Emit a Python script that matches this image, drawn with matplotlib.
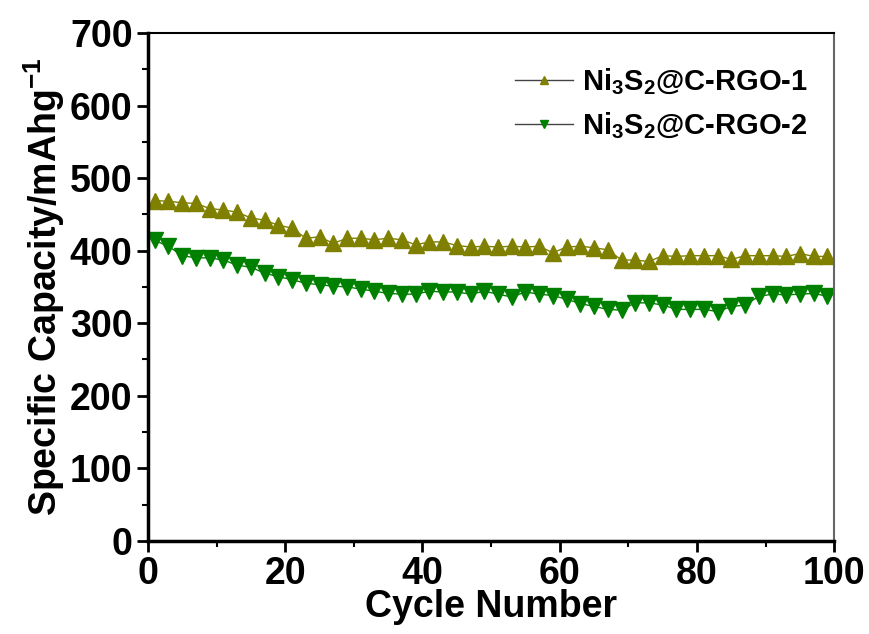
import numpy as np
import matplotlib.pyplot as plt
from matplotlib.ticker import MultipleLocator

plt.rcParams['font.family'] = ['Liberation Sans', 'DejaVu Sans']
plt.rcParams['font.weight'] = 'bold'
plt.rcParams['mathtext.fontset'] = 'custom'
plt.rcParams['mathtext.bf'] = 'Liberation Sans:bold'
plt.rcParams['mathtext.rm'] = 'Liberation Sans:bold'
plt.rcParams['mathtext.default'] = 'bf'

# cycle numbers (every second cycle)
cycles = np.arange(1, 100, 2)

# Ni3S2@C-RGO-1
cap1 = [469, 468, 466, 465, 458, 456, 453, 445, 442, 435,
        431, 417, 419, 410, 417, 417, 415, 417, 415, 408,
        412, 412, 407, 405, 406, 405, 406, 405, 406, 397,
        405, 406, 404, 401, 387, 387, 385, 393, 392, 393,
        393, 393, 388, 393, 393, 393, 392, 396, 392, 392]

# Ni3S2@C-RGO-2
cap2 = [414, 406, 393, 390, 390, 387, 380, 377, 369, 364,
        360, 355, 353, 351, 350, 347, 344, 341, 340, 340,
        344, 343, 343, 340, 344, 340, 336, 343, 340, 338,
        333, 327, 323, 319, 318, 328, 328, 325, 319, 319,
        319, 316, 323, 325, 337, 340, 339, 340, 341, 337]

fig = plt.figure(figsize=(8.7, 6.34), dpi=100)
ax = fig.add_axes([0.170, 0.147, 0.789, 0.801])

ax.plot(cycles, cap1, color='#808000', lw=1, marker='^', ms=11,
        mec='#808000', label=r'Ni$_3$S$_2$@C-RGO-1')
ax.plot(cycles, cap2, color='#008000', lw=1, marker='v', ms=11,
        mec='#008000', label=r'Ni$_3$S$_2$@C-RGO-2')

ax.set_xlim(0, 100)
ax.set_ylim(0, 700)
ax.xaxis.set_major_locator(MultipleLocator(20))
ax.xaxis.set_minor_locator(MultipleLocator(10))
ax.yaxis.set_major_locator(MultipleLocator(100))
ax.yaxis.set_minor_locator(MultipleLocator(50))

ax.spines['left'].set_linewidth(2.5)
ax.spines['bottom'].set_linewidth(2.5)
ax.spines['top'].set_linewidth(1.5)
ax.spines['right'].set_linewidth(1.5)
ax.spines['right'].set_color('#666666')

ax.tick_params(which='major', direction='out', length=8, width=2,
               labelsize=27, pad=3, top=False, right=False)
ax.tick_params(which='minor', direction='out', length=4, width=1.5,
               top=False, right=False)
for lab in ax.get_xticklabels() + ax.get_yticklabels():
    lab.set_fontweight('bold')

ax.set_xlabel('Cycle Number', fontsize=27, fontweight='bold', labelpad=-2)
ax.set_ylabel(r'Specific Capacity/mAhg$^{-1}$', fontsize=27,
              fontweight='bold', labelpad=2)

leg = ax.legend(loc='upper right', bbox_to_anchor=(1.0, 0.985),
                frameon=False, fontsize=21, markerscale=0.5,
                handlelength=2.0, handletextpad=0.3, labelspacing=0.45)
for h in leg.legend_handles:
    h.set_color('#444444')
leg.legend_handles[0].set_markerfacecolor('#808000')
leg.legend_handles[0].set_markeredgecolor('#808000')
leg.legend_handles[1].set_markerfacecolor('#008000')
leg.legend_handles[1].set_markeredgecolor('#008000')

fig.savefig('out.png', dpi=100)
